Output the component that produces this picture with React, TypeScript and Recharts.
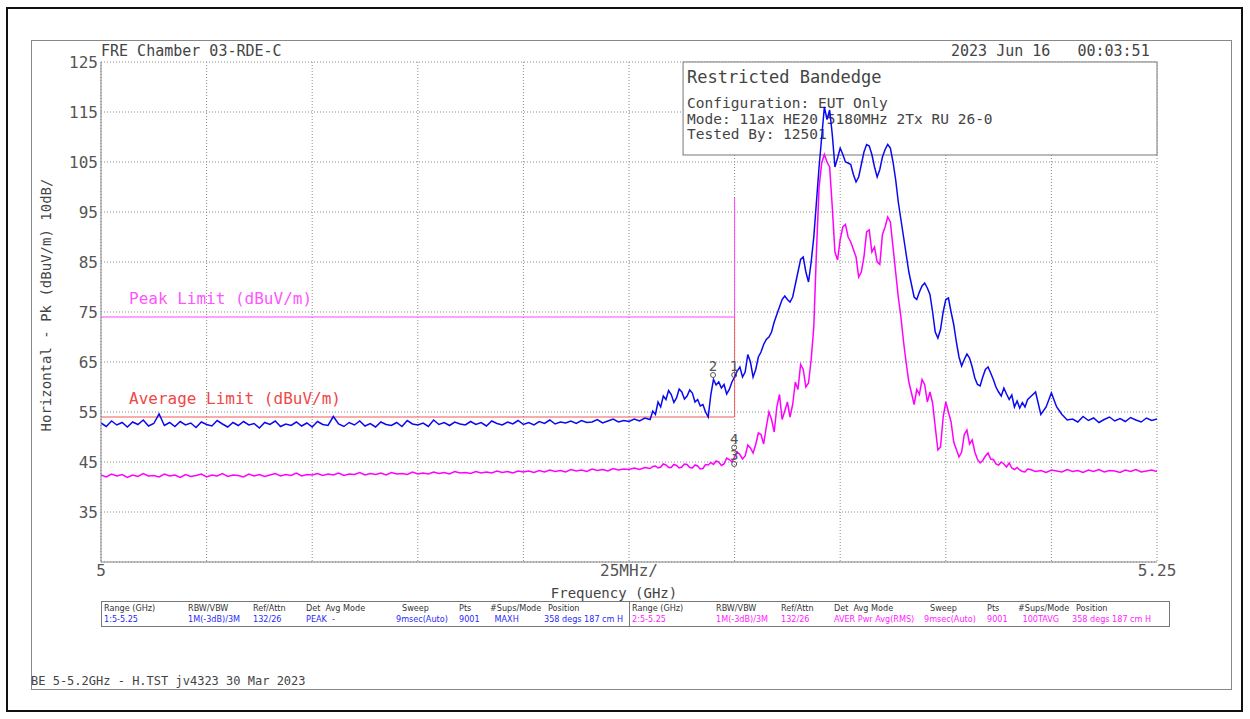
import { LineChart, Line, XAxis, YAxis, CartesianGrid, ReferenceArea, ReferenceDot } from "recharts";

// sweep 5.000 - 5.250 GHz. Flat parts read every 1.25 MHz,
// the emission band (5.130 - 5.220 GHz) read every 0.625 MHz.
const lowStart = 5;
const lowStep = 0.00125;
const bandStart = 5.13;
const bandStep = 0.000625;
const highStart = 5.22125;
const highStep = 0.00125;

// trace 1: peak / MAXH (dBuV/m)
const peakLow = [
  52.8, 52.1, 53.2, 52.4, 52.9, 52.0, 53.0, 52.5, 53.4, 52.2,
  52.7, 54.6, 52.3, 52.9, 52.1, 53.1, 52.4, 52.8, 51.9, 53.0,
  52.5, 52.2, 53.3, 52.6, 52.0, 52.9, 52.3, 53.1, 52.4, 52.7,
  51.8, 52.9, 52.5, 53.2, 52.1, 52.6, 52.3, 53.0, 52.2, 52.8,
  52.0, 53.1, 52.5, 52.3, 54.1, 52.6, 52.1, 52.9, 52.4, 53.2,
  52.2, 52.7, 52.0, 53.0, 52.5, 52.3, 52.9, 52.1, 53.3, 52.6,
  52.4, 52.8, 52.1, 53.4, 52.5, 52.9, 52.3, 53.0, 52.6, 52.4,
  53.1, 52.5, 52.9, 52.2, 53.2, 52.7, 52.4, 53.0, 52.6, 53.3,
  52.5, 52.9, 52.4, 53.1, 52.7, 53.4, 52.6, 53.0, 52.8, 53.2,
  52.7, 53.3, 52.9, 53.0, 53.5, 52.8, 53.2, 53.6, 53.0, 53.3,
  53.1, 53.6, 53.2, 53.8,
];
const peakBand = [
  53.5, 55.2, 54.5, 57.0, 56.0, 58.2, 57.5, 59.3, 58.5, 56.9,
  57.8, 59.6, 59.0, 57.6, 58.2, 59.4, 58.8, 57.0, 57.5, 56.2,
  56.5, 55.0, 54.0, 58.5, 61.5, 60.4, 61.0, 59.8, 60.5, 58.6,
  59.5, 61.0, 62.0, 63.2, 64.0, 62.0, 63.0, 66.5, 65.0, 62.0,
  63.5, 66.0, 67.0, 68.5, 69.5, 70.0, 71.0, 73.0, 74.5, 76.0,
  77.5, 78.2, 77.5, 77.0, 78.0, 80.5, 83.0, 85.5, 86.0, 83.0,
  81.0, 85.0, 90.0, 97.0, 104.0, 110.0, 116.0, 113.5, 115.4, 110.5,
  104.0, 105.8, 107.8, 106.5, 105.0, 104.8, 104.5, 102.5, 101.0, 102.0,
  104.5, 107.0, 108.5, 108.2, 106.5, 104.0, 102.0, 103.5, 106.0, 107.5,
  108.5, 107.8, 105.0, 101.5, 97.0, 93.5, 90.0, 86.5, 83.0, 80.5,
  78.0, 77.5, 79.0, 80.2, 80.8, 79.8, 78.5, 75.0, 71.0, 69.8,
  71.5, 75.0, 77.5, 77.8, 75.0, 72.5, 69.0, 66.0, 64.2, 65.5,
  66.6, 65.8, 64.0, 61.8, 60.5, 60.2, 62.0, 63.5, 64.0, 62.8,
  61.5, 60.0, 59.0, 58.2, 59.8, 58.6, 57.5, 58.4, 56.0, 57.2,
  55.8, 56.9, 56.0, 57.5, 58.0,
];
const peakHigh = [
  59.0, 54.5, 56.0, 58.8, 56.0, 54.5, 53.4, 53.6, 53.0, 54.1,
  53.3, 53.8, 52.9, 53.5, 54.0, 53.2, 53.7, 53.1, 53.9, 53.4,
  53.0, 53.8, 53.3, 53.6,
];

// trace 2: average / RMS (dBuV/m)
const avgLow = [
  42.4, 42.0, 42.6, 42.2, 42.5, 41.9, 42.4, 42.1, 42.7, 42.2,
  42.3, 42.0, 42.6, 42.2, 42.4, 41.9, 42.5, 42.1, 42.3, 42.6,
  42.0, 42.4, 42.2, 42.7, 42.1, 42.4, 42.3, 42.0, 42.6, 42.2,
  42.5, 42.1, 42.4, 42.7, 42.2, 42.5, 42.3, 42.8, 42.2, 42.5,
  42.4, 42.7, 42.3, 42.6, 42.4, 42.8, 42.3, 42.6, 42.5, 42.9,
  42.4, 42.7, 42.5, 42.8, 42.4, 42.9, 42.6, 42.7, 42.5, 43.0,
  42.6, 42.8, 42.6, 43.0, 42.7, 42.9, 42.6, 43.1, 42.8, 42.9,
  42.7, 43.1, 42.8, 43.0, 42.8, 43.2, 42.9, 43.1, 42.8, 43.2,
  43.0, 43.2, 42.9, 43.3, 43.0, 43.4, 43.1, 43.3, 43.0, 43.5,
  43.2, 43.4, 43.1, 43.6, 43.3, 43.5, 43.2, 43.7, 43.4, 43.6,
  43.5, 43.8, 43.5, 43.9,
];
const avgBand = [
  43.7, 44.1, 44.2, 43.8, 44.0, 44.6, 44.4, 43.9, 43.9, 44.5,
  44.3, 43.8, 44.0, 44.6, 44.5, 43.9, 43.8, 44.4, 44.2, 43.6,
  43.7, 44.5, 44.4, 44.9, 44.5, 45.2, 45.0, 44.3, 44.6, 45.8,
  45.5, 45.0, 46.0, 47.0, 46.5, 45.6, 46.2, 48.4, 47.8, 46.8,
  48.5, 50.8, 50.5, 48.6, 52.0, 55.0, 53.5, 51.0, 56.0, 58.5,
  53.5, 55.2, 57.0, 54.0, 56.5, 61.0, 59.5, 64.5, 63.5, 60.0,
  60.8, 65.5, 72.0, 87.0, 100.0, 104.8, 106.5, 105.0, 104.0, 96.0,
  87.0, 85.4, 89.5, 92.0, 92.5, 90.0, 89.0, 87.5, 86.0, 82.0,
  83.0, 86.0, 91.0, 91.4, 87.0, 88.0, 85.0, 84.5, 90.5, 92.0,
  94.0, 93.0, 88.0, 83.0, 78.0, 74.0, 69.0, 64.8, 61.0, 58.8,
  56.5, 59.5, 58.5, 61.5, 60.5, 57.0, 59.0, 56.8, 52.0, 47.4,
  48.0, 54.0, 57.0, 55.0, 53.0, 49.0, 47.5, 46.0, 47.0, 50.5,
  51.4, 48.6, 49.4, 47.0, 45.5, 44.8, 45.3, 46.2, 46.8, 45.6,
  45.5, 44.6, 44.4, 45.0, 44.6, 44.0, 44.8, 43.8, 43.5, 43.9,
  43.4, 43.1, 43.0, 43.6, 43.5,
];
const avgHigh = [
  43.1, 43.3, 42.9, 43.4, 43.2, 43.0, 43.5, 43.1, 43.3, 42.9,
  43.4, 43.1, 43.5, 43.0, 43.3, 43.2, 42.9, 43.4, 43.1, 43.5,
  43.0, 43.2, 43.4, 43.1,
];

const peakLimit = [
  { f: 5, v: 74 },
  { f: 5.15, v: 74 },
  { f: 5.15, v: 97.8 },
];
const avgLimit = [
  { f: 5, v: 54 },
  { f: 5.15, v: 54 },
  { f: 5.15, v: 74 },
];

const markers = [
  { id: "1", f: 5.1499, v: 62.4 },
  { id: "2", f: 5.1449, v: 62.4 },
  { id: "3", f: 5.1499, v: 44.6 },
  { id: "4", f: 5.1499, v: 47.9 },
];

const xTicks = [5, 5.025, 5.05, 5.075, 5.1, 5.125, 5.15, 5.175, 5.2, 5.225, 5.25];
const xTickText: Record<string, string> = { "5": "5", "5.125": "25MHz/", "5.25": "5.25" };
const yTicks = [25, 35, 45, 55, 65, 75, 85, 95, 105, 115, 125];

const infoLines = ["Configuration: EUT Only", "Mode: 11ax HE20 5180MHz 2Tx RU 26-0", "Tested By: 12501"];

const tableHead = [
  ["Range (GHz)", 0], ["RBW/VBW", 84], ["Ref/Attn", 149], ["Det  Avg Mode", 202],
  ["Sweep", 298], ["Pts", 355], ["#Sups/Mode", 386], ["Position", 444],
] as const;
const tableRow1 = ["1:5-5.25", "1M(-3dB)/3M", "132/26", "PEAK  -", "9msec(Auto)", "9001", " MAXH", "358 degs 187 cm H"];
const tableRow2 = ["2:5-5.25", "1M(-3dB)/3M", "132/26", "AVER Pwr Avg(RMS)", "9msec(Auto)", "9001", " 100TAVG", "358 degs 187 cm H"];
const rowOffsets = [0, 84, 149, 202, 292, 355, 388, 440];

const rows = [
  ...peakLow.map((pk, i) => ({ f: +(lowStart + i * lowStep).toFixed(6), pk, av: avgLow[i] })),
  ...peakBand.map((pk, i) => ({ f: +(bandStart + i * bandStep).toFixed(6), pk, av: avgBand[i] })),
  ...peakHigh.map((pk, i) => ({ f: +(highStart + i * highStep).toFixed(6), pk, av: avgHigh[i] })),
];

const mono = "'DejaVu Sans Mono', monospace";
const narrow = "'DejaVu Sans Condensed', 'Liberation Sans Narrow', 'DejaVu Sans', sans-serif";
const ink = "#444";

function InfoBox(props: any) {
  const { x, y, width, height } = props;
  return (
    <g>
      <rect x={x} y={y} width={width} height={height} fill="#fff" stroke="#777" strokeWidth={1} />
      <text x={x + 4} y={y + 21} fontFamily={mono} fontSize={17} fill={ink}>Restricted Bandedge</text>
      {infoLines.map((t, k) => (
        <text key={k} x={x + 4} y={y + 46 + k * 15.5} fontFamily={mono} fontSize={14.5} fill={ink}>{t}</text>
      ))}
    </g>
  );
}

function MarkerGlyph(label: string) {
  return (props: any) => (
    <g>
      <circle cx={props.cx} cy={props.cy} r={2.5} fill="none" stroke="#555" strokeWidth={1} />
      <text x={props.cx} y={props.cy - 4} textAnchor="middle" fontFamily={mono} fontSize={14} fill="#555">{label}</text>
    </g>
  );
}

function ParamTable({ left, width, color, values }: { left: number; width: number; color: string; values: string[] }) {
  return (
    <div style={{ position: "absolute", left, top: 601, width, height: 26, border: "1px solid #777", boxSizing: "border-box", fontFamily: narrow, fontSize: 9, whiteSpace: "pre" }}>
      {tableHead.map(([t, dx]) => (
        <span key={t} style={{ position: "absolute", left: 2 + dx, top: 1, color: "#333" }}>{t}</span>
      ))}
      {values.map((t, k) => (
        <span key={k} style={{ position: "absolute", left: 2 + rowOffsets[k], top: 12, color }}>{t}</span>
      ))}
    </div>
  );
}

export default function App() {
  return (
    <div style={{ position: "absolute", left: 0, top: 0, width: 1250, height: 719, background: "#fff", overflow: "hidden" }}>
      <div style={{ position: "absolute", left: 6, top: 7, width: 1237, height: 705, border: "2px solid #111", boxSizing: "border-box" }} />
      <div style={{ position: "absolute", left: 31, top: 40, width: 1201, height: 650, border: "1px solid #888", boxSizing: "border-box" }} />

      <LineChart width={1250} height={719} data={rows} margin={{ top: 62, right: 93, bottom: 127, left: 41 }} style={{ position: "absolute", left: 0, top: 0 }}>
        <CartesianGrid stroke="#8a8a8a" strokeDasharray="1 2" />
        <XAxis
          dataKey="f"
          type="number"
          domain={[5, 5.25]}
          ticks={xTicks}
          interval={0}
          height={30}
          tickSize={0}
          tickMargin={3}
          tickFormatter={(v: number) => xTickText[String(v)] ?? ""}
          tick={{ fill: "#555", fontSize: 16, fontFamily: mono }}
          axisLine={{ stroke: "#888" }}
          allowDataOverflow
        />
        <YAxis
          type="number"
          domain={[25, 125]}
          ticks={yTicks}
          interval={0}
          width={60}
          tickSize={0}
          tickMargin={3}
          tickFormatter={(v: number) => (v === 25 ? "" : String(v))}
          tick={{ fill: "#555", fontSize: 16, fontFamily: mono }}
          axisLine={{ stroke: "#888" }}
          allowDataOverflow
        />
        <ReferenceArea x1={5.1378} x2={5.25} y1={106.4} y2={125} shape={InfoBox} ifOverflow="visible" />
        <Line data={avgLimit} dataKey="v" type="linear" stroke="#f05a5a" strokeWidth={1} dot={false} activeDot={false} isAnimationActive={false} />
        <Line data={peakLimit} dataKey="v" type="linear" stroke="#ff44ff" strokeWidth={1} dot={false} activeDot={false} isAnimationActive={false} />
        <Line dataKey="av" type="linear" stroke="#ff00ff" strokeWidth={1.5} dot={false} activeDot={false} isAnimationActive={false} />
        <Line dataKey="pk" type="linear" stroke="#0a0af0" strokeWidth={1.5} dot={false} activeDot={false} isAnimationActive={false} />
        {markers.map((m) => (
          <ReferenceDot key={m.id} x={m.f} y={m.v} r={0} shape={MarkerGlyph(m.id)} />
        ))}
      </LineChart>

      <div style={{ position: "absolute", left: 101, top: 42, fontFamily: mono, fontSize: 15, color: ink, whiteSpace: "pre" }}>FRE Chamber 03-RDE-C</div>
      <div style={{ position: "absolute", left: 951, top: 42, fontFamily: mono, fontSize: 15, color: ink, whiteSpace: "pre" }}>2023 Jun 16   00:03:51</div>

      <div style={{ position: "absolute", left: 129, top: 289, fontFamily: mono, fontSize: 16, color: "#ff55ff", whiteSpace: "pre" }}>Peak Limit (dBuV/m)</div>
      <div style={{ position: "absolute", left: 129, top: 389, fontFamily: mono, fontSize: 16, color: "#f04848", whiteSpace: "pre" }}>Average Limit (dBuV/m)</div>

      <div style={{ position: "absolute", left: 46, top: 305, transform: "translate(-50%, -50%) rotate(-90deg)", fontFamily: mono, fontSize: 14, color: ink, whiteSpace: "pre" }}>Horizontal - Pk (dBuV/m) 10dB/</div>
      <div style={{ position: "absolute", left: 614, top: 585, transform: "translateX(-50%)", fontFamily: mono, fontSize: 14, color: ink, whiteSpace: "pre" }}>Frequency (GHz)</div>

      <ParamTable left={101} width={529} color="#2a2af5" values={tableRow1} />
      <ParamTable left={629} width={541} color="#ff22ff" values={tableRow2} />

      <div style={{ position: "absolute", left: 31, top: 674, fontFamily: mono, fontSize: 12, color: ink, whiteSpace: "pre" }}>BE 5-5.2GHz - H.TST jv4323 30 Mar 2023</div>
    </div>
  );
}
